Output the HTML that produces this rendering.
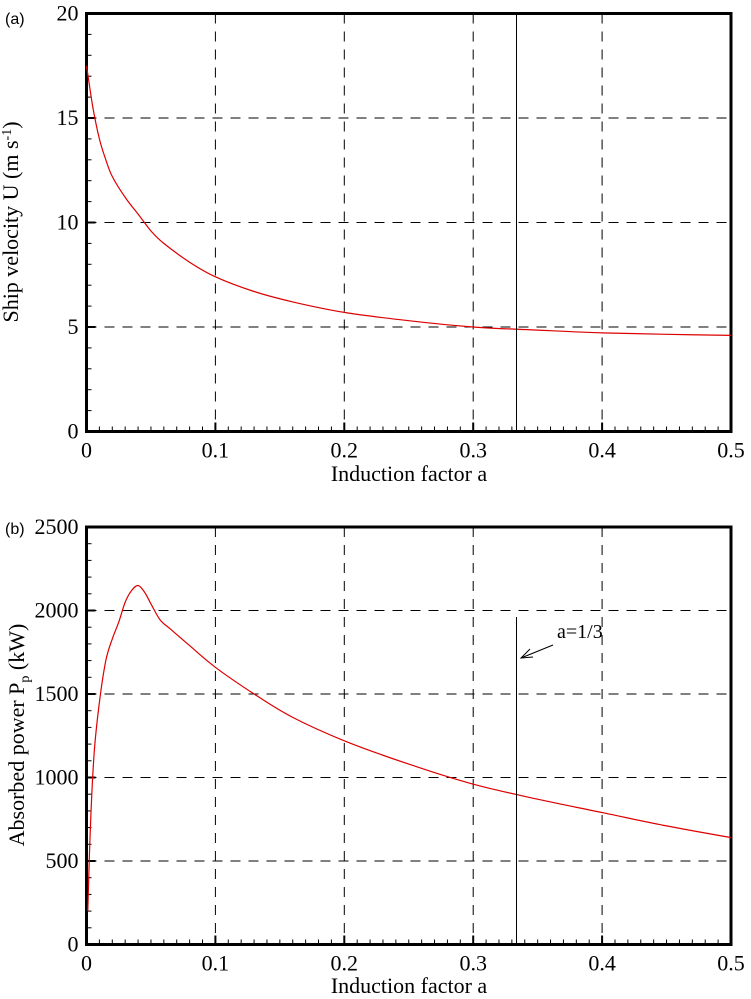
<!DOCTYPE html>
<html><head><meta charset="utf-8"><style>
body{margin:0;background:#fff}
svg{display:block;font-family:"Liberation Serif",serif}
</style></head><body>
<svg id="s" width="751" height="999" xmlns="http://www.w3.org/2000/svg">
<text x="5" y="24" font-family="Liberation Sans,sans-serif" font-size="16">(a)</text>
<text x="5" y="534" font-family="Liberation Sans,sans-serif" font-size="16">(b)</text>
<text x="18" y="222" font-size="22" text-anchor="middle" transform="rotate(-90 18 222)">Ship velocity U (m s<tspan dy="-7" font-size="14">-1</tspan><tspan dy="7">)</tspan></text>
<text x="24" y="735" font-size="22" text-anchor="middle" transform="rotate(-90 24 735)">Absorbed power P<tspan dy="5" font-size="14">p</tspan><tspan dy="-5"> (kW)</tspan></text>
<text x="409" y="481" font-size="22" text-anchor="middle">Induction factor a</text>
<text x="409" y="993" font-size="22" text-anchor="middle">Induction factor a</text>
<text x="557" y="638" font-size="20">a=1/3</text>
<line x1="553" y1="645" x2="521" y2="658" stroke="#000" stroke-width="1"/>
<polyline points="530,649 521,658 533,657" fill="none" stroke="#000" stroke-width="1"/>
<g id="g"></g>
</svg>
<script>
const g=document.getElementById('g');let h='';
const X0=86.5,SX=1289;
function path(pts){let d='M'+pts[0].join(',');
 for(let i=0;i<pts.length-1;i++){const p0=pts[Math.max(0,i-1)],p1=pts[i],p2=pts[i+1],p3=pts[Math.min(pts.length-1,i+2)];
  const c1=[p1[0]+(p2[0]-p0[0])/6,p1[1]+(p2[1]-p0[1])/6],c2=[p2[0]-(p3[0]-p1[0])/6,p2[1]-(p3[1]-p1[1])/6];
  d+=` C${c1[0].toFixed(1)},${c1[1].toFixed(1)} ${c2[0].toFixed(1)},${c2[1].toFixed(1)} ${p2[0].toFixed(1)},${p2[1].toFixed(1)}`;}
 return d;}
function plot(top,bot,ymax,ystep,data){
 const sy=(bot-top)/ymax, Y=v=>bot-v*sy, X=a=>X0+a*SX;
 for(let i=1;i<5;i++){h+=`<line x1="${X(i/10)}" y1="${top}" x2="${X(i/10)}" y2="${bot}" stroke="#000" stroke-dasharray="10,8"/>`;}
 for(let v=ystep;v<ymax;v+=ystep){h+=`<line x1="${X0}" y1="${Y(v)}" x2="731" y2="${Y(v)}" stroke="#000" stroke-dasharray="10,8"/>`;}
 for(let i=0;i<=50;i++){const x=X(i/100),L=i%10==0?9:5;h+=`<line x1="${x}" y1="${bot}" x2="${x}" y2="${bot-L}" stroke="#000" stroke-width="${i%10==0?2:1}"/>`;
  if(i%10==0)h+=`<text x="${x}" y="${bot+26}" font-size="22" text-anchor="middle">${i==0?'0':(i/100).toString()}</text>`;}
 const n=Math.round(ymax/ystep*5);
 for(let k=0;k<=n;k++){const v=k*ystep/5,y=Y(v),L=k%5==0?9:5;h+=`<line x1="${X0}" y1="${y}" x2="${X0+L}" y2="${y}" stroke="#000" stroke-width="${k%5==0?2:1}"/>`;
  if(k%5==0)h+=`<text x="${X0-8}" y="${y+7}" font-size="22" text-anchor="end">${v}</text>`;}
 h+=`<rect x="${X0}" y="${top}" width="${731-X0}" height="${bot-top}" fill="none" stroke="#000" stroke-width="3"/>`;
 h+=`<path fill="none" stroke="#d00" stroke-width="1.2" d="${path(data.map(p=>[X(p[0]),Y(p[1])]))}"/>`;
}
plot(13.5,431.5,20,5,[[0,17.5],[0.005,15.5],[0.01,14],[0.015,13],[0.02,12.2],[0.03,11.2],[0.04,10.4],[0.05,9.6],[0.06,9],[0.08,8.1],[0.1,7.4],[0.13,6.7],[0.16,6.2],[0.2,5.7],[0.25,5.3],[0.3,5.0],[0.35,4.85],[0.4,4.72],[0.45,4.65],[0.5,4.6]]);
h+=`<line x1="516.5" y1="13.5" x2="516.5" y2="431.5" stroke="#000"/>`;
plot(527,944.5,2500,500,[[0.001,200],[0.003,700],[0.006,1150],[0.01,1450],[0.015,1700],[0.02,1830],[0.025,1930],[0.03,2050],[0.035,2120],[0.04,2150],[0.045,2110],[0.05,2040],[0.057,1945],[0.065,1890],[0.08,1790],[0.1,1660],[0.13,1500],[0.16,1360],[0.2,1220],[0.25,1080],[0.3,960],[0.35,870],[0.4,790],[0.45,710],[0.5,640]]);
h+=`<line x1="516.5" y1="617" x2="516.5" y2="944.5" stroke="#000"/>`;
g.innerHTML=h;
</script>
</body></html>
